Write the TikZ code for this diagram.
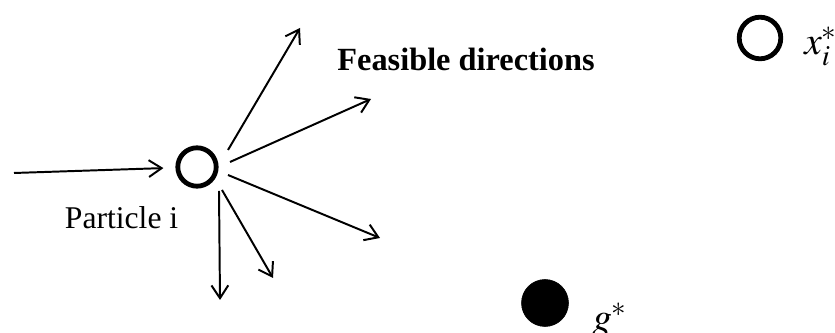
\documentclass[tikz,border=0pt]{standalone}
\usepackage{mathptmx}
\usepackage{fontspec}
\setmainfont{Liberation Serif}
\usepackage{tikz}
\usetikzlibrary{arrows.meta, positioning}

\begin{document}
\begin{tikzpicture}[
    arr/.style={line width=1.4pt, -{Straight Barb[length=0.32cm, width=0.42cm, line width=1.4pt]}},
    ring/.style={draw, circle, line width=0.12cm, inner sep=0pt},
]
\useasboundingbox (0,0) rectangle (20.875,8.325);

% particle and where it comes from
\node[ring, minimum size=0.96cm] (p) at (4.925,4.15) {};
\coordinate (in) at (0.35,4.0);
\draw[arr, shorten >=0.3cm] (in) -- (p);
\node[font=\fontsize{22.5}{27}\selectfont] (plabel) at (3.04,2.875) {Particle i};

% feasible directions
\node[font=\fontsize{23}{28}\selectfont\bfseries] (fd) at (11.65,6.85) {Feasible directions};
\foreach \dx/\dy/\tx/\ty [count=\k] in {0.775/0.425/7.5/7.625, 0.825/0.125/9.275/5.85, 0.775/-0.2/9.5/2.375, 0.625/-0.575/6.825/1.375, 0.55/-0.6/5.5/0.825} {
   \coordinate (d\k) at (\tx,\ty);
   \draw[arr] ([shift={(\dx,\dy)}]p.center) -- (d\k);
}

% personal best
\node[ring, line width=0.12cm, minimum size=1.04cm] (xbest) at (19.0,7.375) {};
\node[anchor=base west, font=\fontsize{28}{32}\selectfont, inner sep=0pt] (xlabel) at (20.1,6.95) {$x_i^*$};

% global best
\node[draw, circle, fill=black, minimum size=1.175cm, inner sep=0pt] (gbest) at (13.625,0.75) {};
\node[anchor=base west, font=\fontsize{28}{32}\selectfont, inner sep=0pt] (glabel) at (14.8,0.05) {$g^*$};
\end{tikzpicture}
\end{document}
